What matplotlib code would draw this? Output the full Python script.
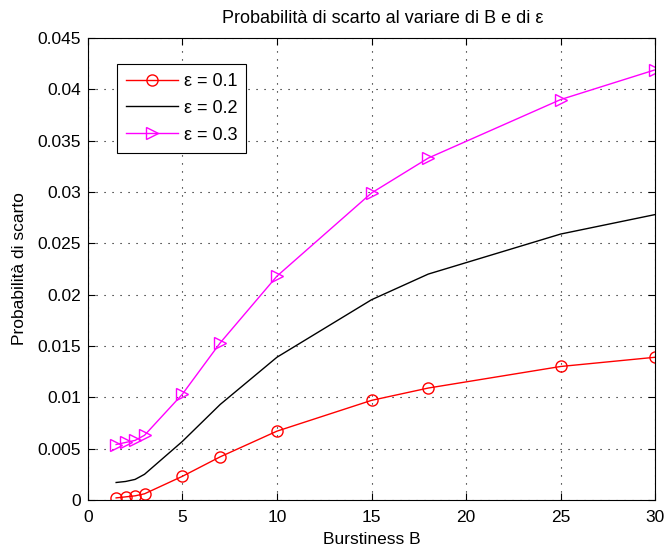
import matplotlib
matplotlib.use("Agg")
import matplotlib.pyplot as plt

B = [1.5, 2, 2.5, 3, 5, 7, 10, 15, 18, 25, 30]
p_eps01 = [0.0002, 0.0003, 0.0004, 0.0006, 0.0023, 0.0042, 0.0067, 0.0097, 0.0109, 0.0130, 0.0139]
p_eps02 = [0.0017, 0.0018, 0.0020, 0.0025, 0.0057, 0.0093, 0.0139, 0.0195, 0.0220, 0.0259, 0.0278]
p_eps03 = [0.0054, 0.0056, 0.0058, 0.0063, 0.0103, 0.0153, 0.0218, 0.0299, 0.0333, 0.0390, 0.0419]
labels = ["ε = 0.1", "ε = 0.2", "ε = 0.3"]
xticks = [0, 5, 10, 15, 20, 25, 30]
yticks = [0, 0.005, 0.01, 0.015, 0.02, 0.025, 0.03, 0.035, 0.04, 0.045]
ytick_labels = ["0", "0.005", "0.01", "0.015", "0.02", "0.025", "0.03", "0.035", "0.04", "0.045"]

plt.rcParams['font.family'] = ['Liberation Sans', 'DejaVu Sans']
plt.rcParams['font.size'] = 12.5

fig = plt.figure(figsize=(6.7, 5.5), dpi=100)
ax = fig.add_axes([0.131, 0.091, 0.847, 0.840])

ax.plot(B, p_eps01, color='#ff0000', lw=1, marker='o', ms=8, mfc='none', mec='#ff0000', mew=1, label=labels[0])
ax.plot(B, p_eps02, color='black', lw=1, label=labels[1])
ax.plot(B, p_eps03, color='#ff00ff', lw=1, marker='>', ms=8, mfc='none', mec='#ff00ff', mew=1, label=labels[2])

ax.set_xlim(0, 30)
ax.set_ylim(0, 0.045)
ax.set_xticks(xticks)
ax.set_yticks(yticks)
ax.set_yticklabels(ytick_labels)
ax.tick_params(direction='in', top=True, right=True, length=5, width=0.8, labelsize=12.5)
ax.tick_params(axis='x', pad=7)
ax.tick_params(axis='y', pad=5)
ax.grid(True, linestyle=(0, (1, 6.2)), color='black', lw=0.8)
for s in ax.spines.values():
    s.set_linewidth(0.8)

ax.set_xlabel("Burstiness B", fontsize=12.5, labelpad=5)
ax.set_ylabel("Probabilità di scarto", fontsize=12.5, labelpad=7)
ax.set_title("Probabilità di scarto al variare di B e di ε", fontsize=13, pad=11, x=0.519)

leg = ax.legend(loc='upper left', bbox_to_anchor=(0.051, 0.944), borderaxespad=0,
                fancybox=False, framealpha=1, edgecolor='black', fontsize=13,
                handlelength=2.9, handletextpad=0.3, borderpad=0.5, labelspacing=0.55)
leg.get_frame().set_linewidth(0.8)

fig.savefig("out.png", dpi=100)
